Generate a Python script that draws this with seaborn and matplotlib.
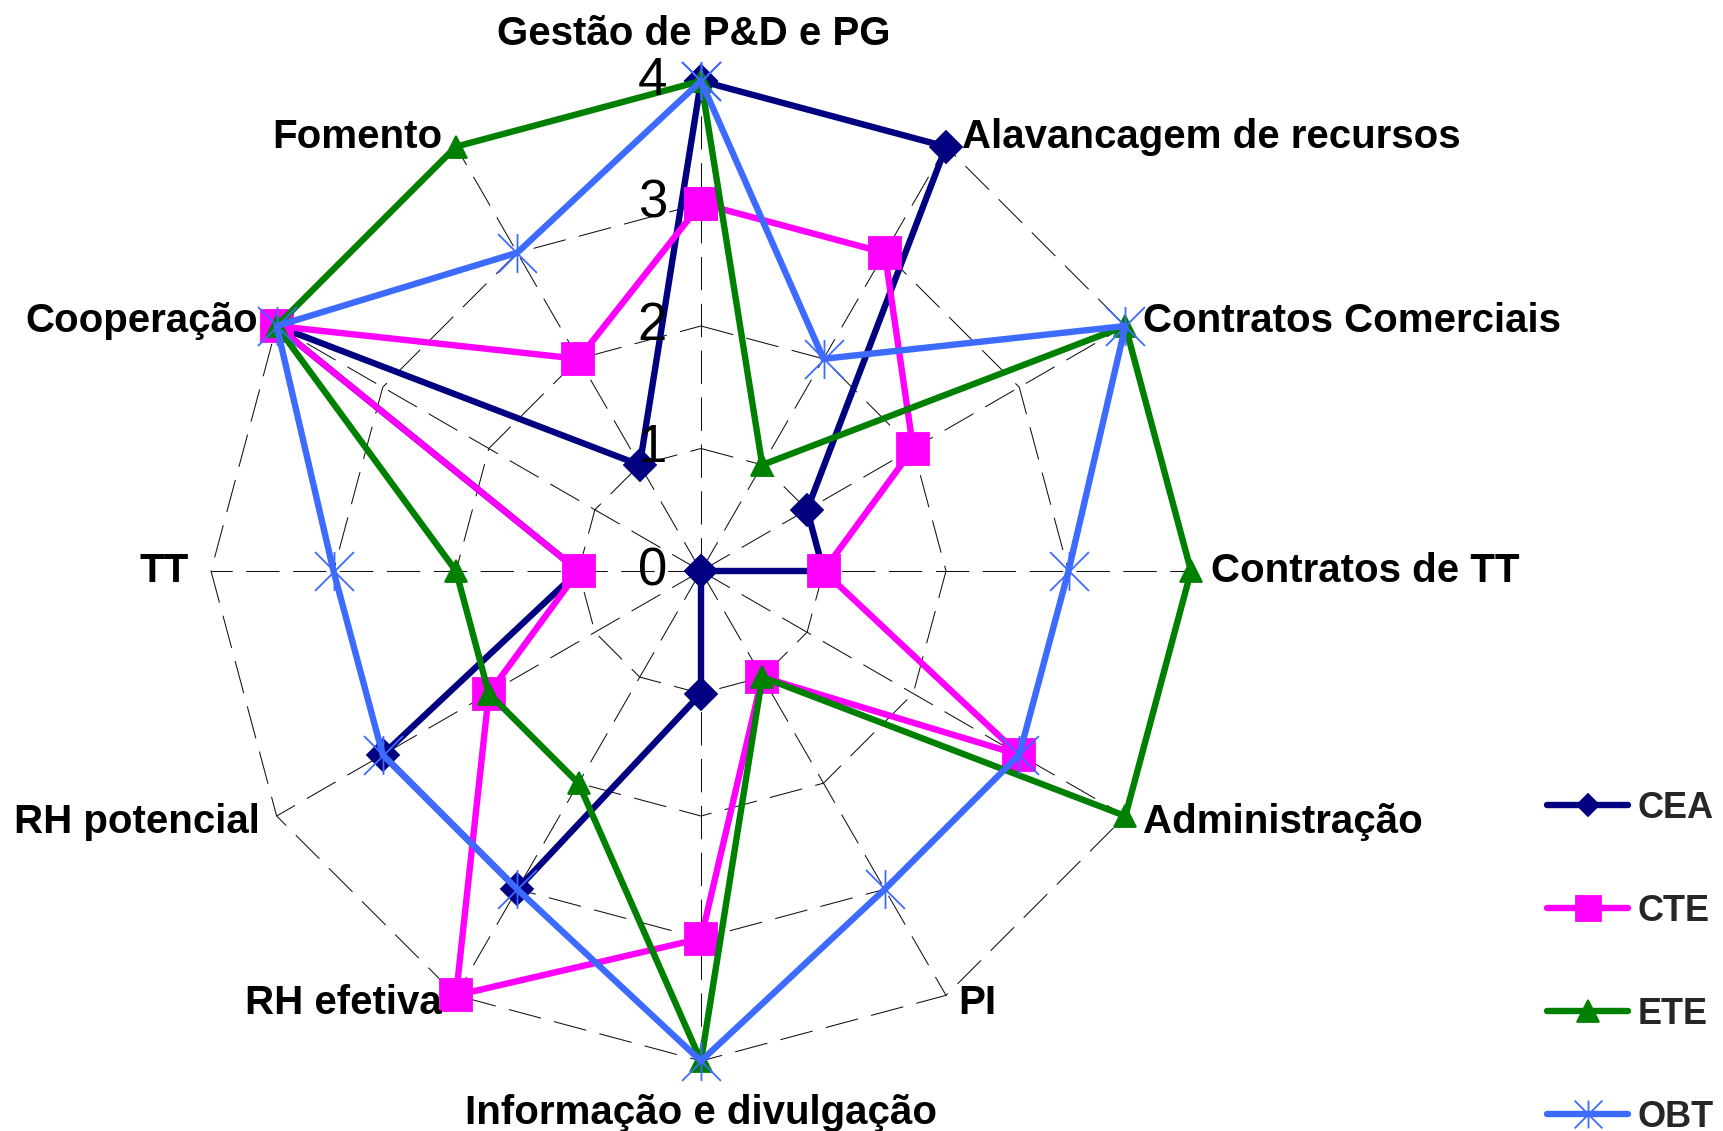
import numpy as np
import pandas as pd
import matplotlib
matplotlib.use("Agg")
import matplotlib.pyplot as plt
from matplotlib.path import Path
import seaborn as sns

# ── data ─────────────────────────────────────────
categories = ["Gestão de P&D e PG", "Alavancagem de recursos",
              "Contratos Comerciais", "Contratos de TT", "Administração",
              "PI", "Informação e divulgação", "RH efetiva",
              "RH potencial", "TT", "Cooperação", "Fomento"]
cea = [4, 4, 1, 1, 0, 0, 1, 3, 3, 1, 4, 1]
cte = [3, 3, 2, 1, 3, 1, 3, 4, 2, 1, 4, 2]
ete = [4, 1, 4, 4, 4, 1, 4, 2, 2, 2, 4, 4]
obt = [4, 2, 4, 3, 3, 3, 4, 3, 3, 3, 4, 3]
series_names = ["CEA", "CTE", "ETE", "OBT"]
r_ticks = [0, 1, 2, 3, 4]

# ── style ────────────────────────────────────────
sns.set_theme(style="white")
plt.rcParams["font.family"] = ["Liberation Sans", "DejaVu Sans"]

asterisk = Path([(-1, -1), (1, 1), (-1, 1), (1, -1), (0, -1), (0, 1)],
                [Path.MOVETO, Path.LINETO, Path.MOVETO, Path.LINETO,
                 Path.MOVETO, Path.LINETO])

STYLE = {
    "CEA": dict(color="#000080", marker="D", ms=16, leg_ms=11),
    "CTE": dict(color="#FF00FF", marker="s", ms=23, leg_ms=18),
    "ETE": dict(color="#008000", marker="^", ms=16, leg_ms=16),
    "OBT": dict(color="#3D6BFF", marker=asterisk, ms=28, leg_ms=20),
}

n = len(categories)
theta = np.linspace(0, 2 * np.pi, n, endpoint=False)
theta_closed = np.append(theta, 2 * np.pi)

fig = plt.figure(figsize=(17.23, 11.31), dpi=100, facecolor="white")
ax = fig.add_axes([211 / 1723, 70 / 1131, 980 / 1723, 980 / 1131], polar=True)
ax.set_theta_zero_location("N")
ax.set_theta_direction(-1)
ax.set_ylim(0, 4)
ax.grid(False)
ax.set_xticks([])
ax.set_yticks([])
ax.spines["polar"].set_visible(False)
ax.set_facecolor("none")

# dashed polygon grid + spokes
for r in r_ticks[1:]:
    ax.plot(theta_closed, [r] * (n + 1), color="#111111", lw=0.75,
            ls=(0, (32, 13)), zorder=1, clip_on=False)
for t in theta:
    ax.plot([t, t], [0, 4], color="#111111", lw=0.75,
            ls=(0, (32, 13)), zorder=1, clip_on=False)

# series
handles = []
for name, vals in zip(series_names, [cea, cte, ete, obt]):
    st = STYLE[name]
    df = pd.DataFrame({"theta": theta_closed, "value": vals + vals[:1]})
    sns.lineplot(data=df, x="theta", y="value", ax=ax, sort=False,
                 estimator=None, color=st["color"], lw=4.6,
                 marker=st["marker"], markersize=st["ms"],
                 markerfacecolor=st["color"], markeredgecolor=st["color"],
                 markeredgewidth=1.3, clip_on=False, zorder=3)
    handles.append(ax.lines[-1])
ax.set_xlabel("")
ax.set_ylabel("")

# radial tick labels
for r in r_ticks:
    ax.annotate(str(r), xy=(0, r), xytext=(-34, 0), textcoords="offset pixels",
                ha="right", va="center", fontsize=38, color="black",
                annotation_clip=False)

# category labels
label_pos = [
    (-7, 47, "center"), (16, 10, "left"), (18, 5, "left"), (20, 0, "left"),
    (18, -6, "left"), (12, -8, "left"), (0, -52, "center"), (-14, -8, "right"),
    (-17, -6, "right"), (-22, 0, "right"), (-19, 5, "right"), (-14, 10, "right"),
]
for t, lab, (dx, dy, ha) in zip(theta, categories, label_pos):
    ax.annotate(lab, xy=(t, 4), xytext=(dx, dy), textcoords="offset pixels",
                ha=ha, va="center", fontsize=29, fontweight="bold",
                color="black", annotation_clip=False)

leg = fig.legend(handles=handles, labels=series_names, loc="upper left",
                 bbox_to_anchor=(1529 / 1723, 1 - 773 / 1131), frameon=False,
                 borderpad=0, handlelength=2.25, handletextpad=0.25,
                 labelspacing=1.88, prop={"size": 26, "weight": "bold"})
for h, name in zip(leg.legend_handles, series_names):
    h.set_markersize(STYLE[name]["leg_ms"])

fig.savefig("out.png", dpi=100, facecolor="white")
